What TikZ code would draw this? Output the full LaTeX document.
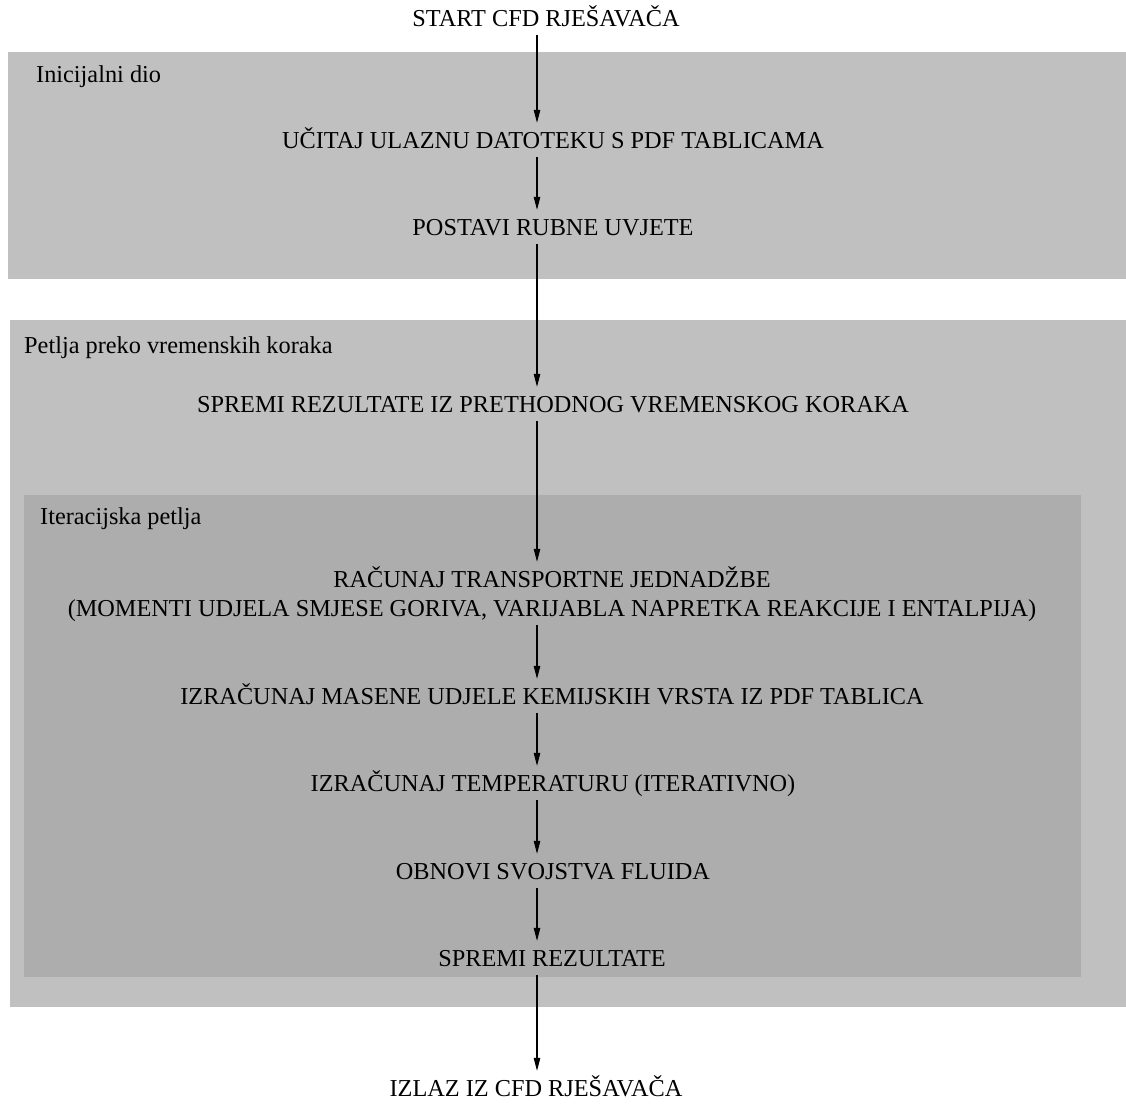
\documentclass[tikz,border=0pt]{standalone}
\usepackage{fontspec}
\setmainfont{Liberation Serif}
\usetikzlibrary{arrows.meta}

\definecolor{outerbox}{gray}{0.753}
\definecolor{innerbox}{gray}{0.68}

\tikzset{
	steptext/.style={inner xsep=0pt, inner ysep=9pt, text height=16pt, text depth=0pt, font=\fontsize{24.3}{29}\selectfont},
	boxlabel/.style={anchor=base west, inner sep=0pt, font=\fontsize{24.3}{29}\selectfont},
	flow/.style={-{Triangle[length=13pt,width=6.5pt]}, line width=1.1pt},
}

\begin{document}
\begin{tikzpicture}[x=1pt, y=-1pt]

	\useasboundingbox (0,0) rectangle (1126,1103);

	% podloge
	\fill[outerbox] (8,52) rectangle (1126,279);
	\fill[outerbox] (10,320) rectangle (1126,1007);
	\fill[innerbox] (24,495) rectangle (1081,977);

	\node[boxlabel] (initlabel) at (36,82) {Inicijalni dio};
	\node[boxlabel] (timelabel) at (24,353) {Petlja preko vremenskih koraka};
	\node[boxlabel] (iterlabel) at (40,524) {Iteracijska petlja};

	% koraci
	\coordinate (spine) at (537,0);
	\node[steptext] (start) at (546,18) {START CFD RJEŠAVAČA};
	\node[steptext] (ucitaj) at (553,140) {UČITAJ ULAZNU DATOTEKU S PDF TABLICAMA};
	\node[steptext] (rubni) at (553,227) {POSTAVI RUBNE UVJETE};
	\node[steptext] (spremiprev) at (553,404) {SPREMI REZULTATE IZ PRETHODNOG VREMENSKOG KORAKA};
	\node[steptext, text height=45pt, text depth=0pt, align=center] (transport) at (552,593.5) {RAČUNAJ TRANSPORTNE JEDNADŽBE\\(MOMENTI UDJELA SMJESE GORIVA, VARIJABLA NAPRETKA REAKCIJE I ENTALPIJA)};
	\node[steptext] (masene) at (552,696) {IZRAČUNAJ MASENE UDJELE KEMIJSKIH VRSTA IZ PDF TABLICA};
	\node[steptext] (temp) at (553,783) {IZRAČUNAJ TEMPERATURU (ITERATIVNO)};
	\node[steptext] (obnovi) at (553,871) {OBNOVI SVOJSTVA FLUIDA};
	\node[steptext] (spremi) at (552,958) {SPREMI REZULTATE};
	\node[steptext] (izlaz) at (536,1088) {IZLAZ IZ CFD RJEŠAVAČA};

	% strelice
	\draw[flow] (start.south -| spine) -- (ucitaj.north -| spine);
	\draw[flow] (ucitaj.south -| spine) -- (rubni.north -| spine);
	\draw[flow] (rubni.south -| spine) -- (spremiprev.north -| spine);
	\draw[flow] (spremiprev.south -| spine) -- (transport.north -| spine);
	\draw[flow] (transport.south -| spine) -- (masene.north -| spine);
	\draw[flow] (masene.south -| spine) -- (temp.north -| spine);
	\draw[flow] (temp.south -| spine) -- (obnovi.north -| spine);
	\draw[flow] (obnovi.south -| spine) -- (spremi.north -| spine);
	\draw[flow] (spremi.south -| spine) -- (izlaz.north -| spine);

\end{tikzpicture}
\end{document}
